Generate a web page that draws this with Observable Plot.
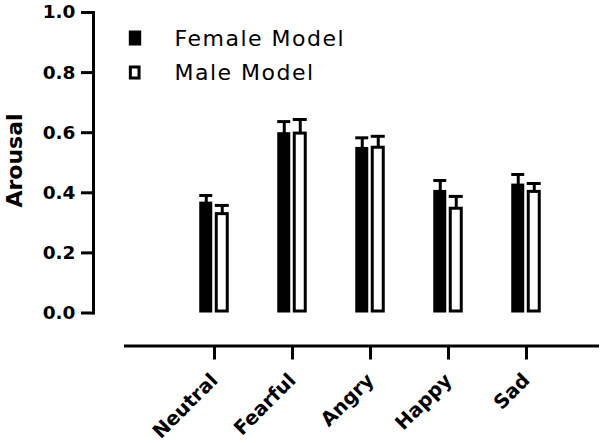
<!DOCTYPE html>
<html>
<head>
<meta charset="utf-8">
<script src="https://cdn.jsdelivr.net/npm/d3@7"></script>
<script src="https://cdn.jsdelivr.net/npm/@observablehq/plot@0.6"></script>
<style>
  html, body { margin: 0; padding: 0; background: #fff; }
  svg { font-family: "DejaVu Sans", sans-serif; }
  g[aria-label="y-axis tick label"] text,
  g[aria-label="x-axis tick label"] text { font-weight: bold; }
</style>
</head>
<body>
<div id="chart"></div>
<script>
const categories = ["Neutral", "Fearful", "Angry", "Happy", "Sad"];
const femaleMean = [0.364, 0.595, 0.546, 0.403, 0.424];
const femaleErr  = [0.027, 0.042, 0.037, 0.038, 0.037];
const maleMean   = [0.329, 0.597, 0.550, 0.347, 0.403];
const maleErr    = [0.029, 0.047, 0.038, 0.041, 0.028];
const yTicks = [0, 0.2, 0.4, 0.6, 0.8, 1.0];
const seriesNames = ["Female Model", "Male Model"];
const yLabel = "Arousal";

const female = categories.map((c, i) => ({category: c, mean: femaleMean[i], err: femaleErr[i]}));
const male = categories.map((c, i) => ({category: c, mean: maleMean[i], err: maleErr[i]}));

const rectSymbol = (w, h) => ({draw(ctx) { ctx.rect(-w / 2, -h / 2, w, h); }});

const chart = Plot.plot({
  width: 600,
  height: 443,
  marginLeft: 93,
  marginRight: 3,
  marginTop: 12,
  marginBottom: 97.5,
  style: {fontFamily: "DejaVu Sans, sans-serif", background: "#fff", color: "#000"},
  x: {type: "band", domain: categories, range: [173.75, 566.25], padding: 0, axis: null},
  y: {domain: [0, 1], range: [312.5, 12], axis: null},
  marks: [
    // axis lines
    Plot.frame({anchor: "left", insetBottom: 33, stroke: "#000", strokeWidth: 3}),
    Plot.frame({anchor: "bottom", insetLeft: 32, stroke: "#000", strokeWidth: 3}),
    Plot.axisY({ticks: yTicks, tickFormat: d3.format(".1f"), tickSize: 12, tickPadding: 6,
      fontSize: 18.5, fontWeight: "bold", stroke: "#000", strokeWidth: 3, label: null}),
    Plot.axisX({tickSize: 14, tickRotate: -45, tickPadding: 17, fontSize: 19.5, fontWeight: "bold",
      stroke: "#000", strokeWidth: 3, label: null}),
    Plot.text([yLabel], {frameAnchor: "left", textAnchor: "middle", lineAnchor: "middle", rotate: -90,
      dx: -78.5, dy: -18.75, fontSize: 22, fontWeight: "bold", fill: "#000"}),
    // error bars
    Plot.ruleX(female, {x: "category", y1: "mean", y2: d => d.mean + d.err, dx: -8.25, stroke: "#000", strokeWidth: 3}),
    Plot.tickY(female, {x: "category", y: d => d.mean + d.err, insetLeft: 24.25, insetRight: 40.75, stroke: "#000", strokeWidth: 3}),
    Plot.ruleX(male, {x: "category", y1: "mean", y2: d => d.mean + d.err, dx: 7.75, stroke: "#000", strokeWidth: 3}),
    Plot.tickY(male, {x: "category", y: d => d.mean + d.err, insetLeft: 39.75, insetRight: 24.25, stroke: "#000", strokeWidth: 3}),
    // bars
    Plot.barY(female, {x: "category", y: "mean", insetLeft: 25.75, insetRight: 42.25, insetBottom: 1.5,
      fill: "#000", stroke: "#000", strokeWidth: 3}),
    Plot.barY(male, {x: "category", y: "mean", insetLeft: 41.25, insetRight: 25.75, insetBottom: 1.5,
      fill: "#fff", stroke: "#000", strokeWidth: 3}),
    // legend
    Plot.dot([seriesNames[0]], {frameAnchor: "top-left", dx: 41.5, dy: 25.5, symbol: rectSymbol(12.4, 15), r: 5, fill: "#000", stroke: "none"}),
    Plot.dot([seriesNames[1]], {frameAnchor: "top-left", dx: 41.2, dy: 60, symbol: rectSymbol(8.7, 11), r: 5, fill: "#fff", stroke: "#000", strokeWidth: 3}),
    Plot.text([seriesNames[0]], {frameAnchor: "top-left", text: d => d, dx: 81, dy: 26,
      textAnchor: "start", lineAnchor: "middle", fontSize: 22, fill: "#000"}),
    Plot.text([seriesNames[1]], {frameAnchor: "top-left", text: d => d, dx: 81, dy: 60,
      textAnchor: "start", lineAnchor: "middle", fontSize: 22, fill: "#000"})
  ]
});
d3.select(chart).selectAll("text")
  .filter(function () { return seriesNames.includes(this.textContent); })
  .style("letter-spacing", "1.5px");
document.getElementById("chart").appendChild(chart);
</script>
</body>
</html>
